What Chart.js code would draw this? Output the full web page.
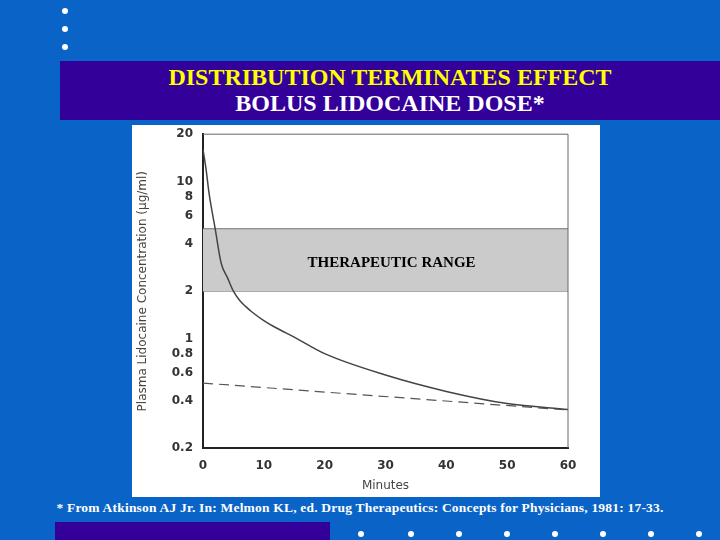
<!DOCTYPE html>
<html>
<head>
<meta charset="utf-8">
<script src="https://cdn.jsdelivr.net/npm/chart.js@4"></script>
<style>
body{margin:0;width:720px;height:540px;background:#0a64c8;position:relative;overflow:hidden;font-family:"Liberation Serif",serif;}
.dot{position:absolute;width:6px;height:6px;border-radius:3px;background:#fff;}
#banner{position:absolute;left:60px;top:61px;width:660px;height:59px;background:#330099;text-align:center;}
#t1{position:absolute;left:0;width:660px;top:3px;color:#ffff00;font-size:24px;font-weight:bold;}
#t2{position:absolute;left:0;width:660px;top:29px;color:#fff;font-size:24px;font-weight:bold;}
#box{position:absolute;left:132px;top:125px;width:468px;height:372px;background:#fff;}
#foot{position:absolute;left:0;width:720px;top:500px;color:#fff;font-size:13.5px;font-weight:bold;text-align:center;letter-spacing:0.2px;}
#bar{position:absolute;left:55px;top:522px;width:275px;height:18px;background:#330099;}
</style>
</head>
<body>
<div class="dot" style="left:62px;top:8px"></div>
<div class="dot" style="left:62px;top:26px"></div>
<div class="dot" style="left:62px;top:44px"></div>
<div id="banner"><div id="t1">DISTRIBUTION TERMINATES EFFECT</div><div id="t2">BOLUS LIDOCAINE DOSE*</div></div>
<div id="box"><canvas id="c" width="468" height="372"></canvas></div>
<div id="foot">* From Atkinson AJ Jr. In: Melmon KL, ed. Drug Therapeutics: Concepts for Physicians, 1981: 17-33.</div>
<div id="bar"></div>
<script>
// bottom bullets
[358,408,456,504,552,600,648,696].forEach(function(x){
    const d=document.createElement('div');d.className='dot';d.style.left=x+'px';d.style.top='531px';document.body.appendChild(d);
});

const minutes=[0,0.5,1,2,3,4,5,6,7,8,10,12,15,20,30,40,50,60];
const concentration=[16,12,8.4,5,3,2.45,2,1.75,1.6,1.48,1.3,1.17,1.02,0.8,0.585,0.46,0.385,0.353];
const dashMinutes=[0,60];
const dashConcentration=[0.52,0.35];
const rangeLow=2, rangeHigh=5;
const yTicks=[0.2,0.4,0.6,0.8,1,2,4,6,8,10,20];
const xTicks=[0,10,20,30,40,50,60];

const pts=(xs,ys)=>xs.map((x,i)=>({x:x,y:ys[i]}));

const frame={
    id:'frame',
    afterDraw(chart){
        const a=chart.chartArea,ctx=chart.ctx;
        ctx.save();
        ctx.strokeStyle='#666';ctx.lineWidth=1;
        ctx.beginPath();
        ctx.moveTo(a.left,a.top);ctx.lineTo(a.right,a.top);ctx.lineTo(a.right,a.bottom);
        ctx.stroke();
        ctx.fillStyle='#000';
        ctx.font='bold 15px "Liberation Serif"';
        ctx.textAlign='center';ctx.textBaseline='middle';
        ctx.fillText('THERAPEUTIC RANGE',chart.scales.x.getPixelForValue(31),chart.scales.y.getPixelForValue(3.0));
        ctx.restore();
    }
};

new Chart(document.getElementById('c'),{
    type:'line',
    data:{datasets:[
        {data:pts([0,60],[rangeHigh,rangeHigh]),borderColor:'#777',borderWidth:1,pointRadius:0,fill:'+1',backgroundColor:'#cbcbcb',order:3},
        {data:pts([0,60],[rangeLow,rangeLow]),borderColor:'#777',borderWidth:1,pointRadius:0,fill:false,order:3},
        {data:pts(minutes,concentration),borderColor:'#444',borderWidth:1.5,pointRadius:0,cubicInterpolationMode:'monotone',fill:false,order:0},
        {data:pts(dashMinutes,dashConcentration),borderColor:'#555',borderWidth:1.2,borderDash:[10,6],pointRadius:0,fill:false,order:1}
    ]},
    plugins:[frame],
    options:{
        responsive:false,animation:false,
        layout:{padding:{top:7,right:32,bottom:0,left:0}},
        plugins:{legend:{display:false},tooltip:{enabled:false}},
        scales:{
            x:{type:'linear',min:0,max:60,
                afterBuildTicks(s){s.ticks=xTicks.map(v=>({value:v}));},
                grid:{display:false,drawTicks:true},
                border:{color:'#222',width:2},
                ticks:{color:'#333',font:{family:'DejaVu Sans',size:12,weight:'bold'},padding:2},
                title:{display:true,text:'Minutes',color:'#444',font:{family:'DejaVu Sans',size:12},padding:{top:4}}
            },
            y:{type:'logarithmic',min:0.2,max:20,
                afterBuildTicks(s){s.ticks=yTicks.map(v=>({value:v}));},
                afterFit(s){s.width=71;},
                grid:{display:false},
                border:{color:'#222',width:2},
                ticks:{color:'#333',font:{family:'DejaVu Sans',size:12,weight:'bold'},callback:v=>String(v),padding:2},
                title:{display:true,text:'Plasma Lidocaine Concentration (\u00b5g/ml)',color:'#444',font:{family:'DejaVu Sans',size:12}}
            }
        }
    }
});
</script>
</body>
</html>
